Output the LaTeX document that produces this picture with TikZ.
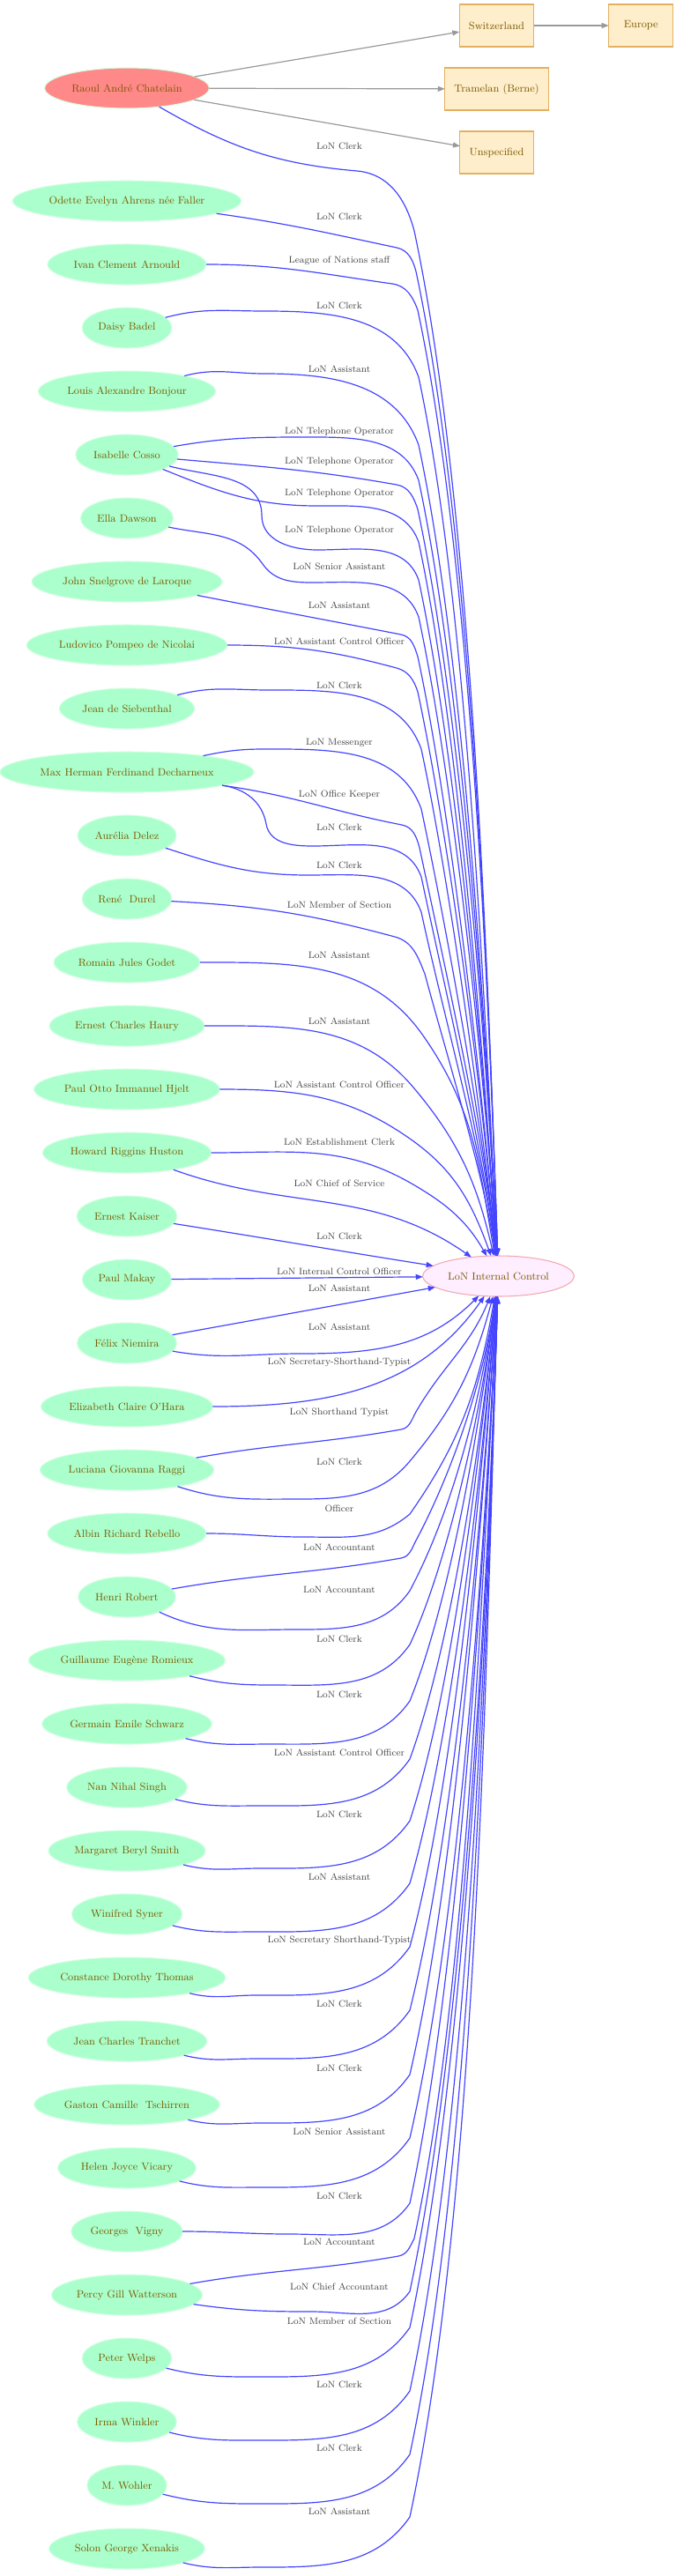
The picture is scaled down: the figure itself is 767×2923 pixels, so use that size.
\documentclass[tikz,border=0pt]{standalone}
\usepackage{tikz}
\usetikzlibrary{arrows.meta, positioning, shapes.geometric}

\definecolor{staffgreen}{HTML}{AAFFCC}
\definecolor{staffline}{HTML}{D2FFE2}
\definecolor{namebrown}{HTML}{7A5A00}
\definecolor{raoulred}{HTML}{FF8888}
\definecolor{orgpink}{HTML}{FFEEFF}
\definecolor{orgline}{HTML}{F0A8B0}
\definecolor{placefill}{HTML}{FFEECC}
\definecolor{placeline}{HTML}{E3B060}
\definecolor{edgeblue}{HTML}{4444FF}
\definecolor{edgegrey}{HTML}{999999}
\definecolor{labgrey}{HTML}{444444}

\tikzset{
  person/.style={ellipse, fill=staffgreen, draw=staffline, line width=0.8pt,
    text=namebrown, font=\fontsize{9}{10}\selectfont, minimum height=34.5pt,
    inner xsep=2.5pt, inner ysep=1pt, outer sep=0pt},
  org/.style={person, fill=orgpink, draw=orgline},
  place/.style={rectangle, fill=placefill, draw=placeline, line width=0.8pt,
    text=namebrown, font=\fontsize{9}{10}\selectfont, minimum height=36pt,
    minimum width=54.75pt, inner xsep=8pt, outer sep=0pt},
  staff/.style={draw=edgeblue, line width=0.9pt, -{Triangle[length=6pt,width=4.5pt]}},
  geo/.style={draw=edgegrey, line width=0.9pt, -{Triangle[length=6pt,width=4.5pt]}},
  role/.style={text=labgrey, font=\fontsize{8}{9}\selectfont, inner sep=1pt},
}

\begin{document}
\begin{tikzpicture}[x=0.75pt, y=-0.75pt, node distance=19.5pt]
  \useasboundingbox (0,0) rectangle (767,2923);

  % People
  \node[person, fill=raoulred] (raoul) at (144,100) {Raoul André Chatelain};
  \node[person, below=61.5pt of raoul] (odette) {Odette Evelyn Ahrens née Faller};
  \node[person, below=of odette] (ivan) {Ivan Clement Arnould};
  \node[person, below=of ivan] (daisy) {Daisy Badel};
  \node[person, below=of daisy] (louis) {Louis Alexandre Bonjour};
  \node[person, below=of louis] (isabelle) {Isabelle Cosso};
  \node[person, below=of isabelle] (ella) {Ella Dawson};
  \node[person, below=of ella] (john) {John Snelgrove de Laroque};
  \node[person, below=of john] (ludovico) {Ludovico Pompeo de Nicolai};
  \node[person, below=of ludovico] (jeans) {Jean de Siebenthal};
  \node[person, below=of jeans] (max) {Max Herman Ferdinand Decharneux};
  \node[person, below=of max] (aurelia) {Aurélia Delez};
  \node[person, below=of aurelia] (rene) {René\ \ Durel};
  \node[person, below=of rene] (romain) {Romain Jules Godet};
  \node[person, below=of romain] (ernestch) {Ernest Charles Haury};
  \node[person, below=of ernestch] (paulotto) {Paul Otto Immanuel Hjelt};
  \node[person, below=of paulotto] (howard) {Howard Riggins Huston};
  \node[person, below=of howard] (ernestk) {Ernest Kaiser};
  \node[person, below=of ernestk] (paulm) {Paul Makay};
  \node[person, below=of paulm] (felix) {Félix Niemira};
  \node[person, below=of felix] (elizabeth) {Elizabeth Claire O'Hara};
  \node[person, below=of elizabeth] (luciana) {Luciana Giovanna Raggi};
  \node[person, below=of luciana] (albin) {Albin Richard Rebello};
  \node[person, below=of albin] (henri) {Henri Robert};
  \node[person, below=of henri] (guillaume) {Guillaume Eugène Romieux};
  \node[person, below=of guillaume] (germain) {Germain Emile Schwarz};
  \node[person, below=of germain] (nan) {Nan Nihal Singh};
  \node[person, below=of nan] (margaret) {Margaret Beryl Smith};
  \node[person, below=of margaret] (winifred) {Winifred Syner};
  \node[person, below=of winifred] (constance) {Constance Dorothy Thomas};
  \node[person, below=of constance] (jeanc) {Jean Charles Tranchet};
  \node[person, below=of jeanc] (gaston) {Gaston Camille\ \ Tschirren};
  \node[person, below=of gaston] (helen) {Helen Joyce Vicary};
  \node[person, below=of helen] (georges) {Georges\ \ Vigny};
  \node[person, below=of georges] (percy) {Percy Gill Watterson};
  \node[person, below=of percy] (peter) {Peter Welps};
  \node[person, below=of peter] (irma) {Irma Winkler};
  \node[person, below=of irma] (wohler) {M. Wohler};
  \node[person, below=of wohler] (solon) {Solon George Xenakis};

  % Places and the organisation
  \node[place] (switz) at (563.5,29) {Switzerland};
  \node[place, right=63.75pt of switz] (europe) {Europe};
  \node[place, below=18pt of switz] (tramelan) {Tramelan (Berne)};
  \node[place, below=18pt of tramelan] (unspec) {Unspecified};
  \node[org] (lic) at (565.5,1448) {LoN Internal Control};

  % Places
  \draw[geo] (raoul) -- (switz);
  \draw[geo] (raoul) -- (tramelan);
  \draw[geo] (raoul) -- (unspec);
  \draw[geo] (switz) -- (europe);

  % Staff links, above
  \draw[staff] (raoul) to[out=-30,in=175] (405,194) to[out=-5,in=105] (470,262) to[out=-78,in=92,looseness=.7] (lic);
  \draw[staff] (odette) to[out=-8,in=168] (450,281) to[out=-12,in=105] (472,308) to[out=-78,in=92,looseness=.7] (lic);
  \draw[staff] (ivan) to[out=0,in=172] (445,322) to[out=-8,in=110] (474,352) to[out=-78,in=92,looseness=.7] (lic);
  \draw[staff] (daisy) to[out=15,in=180] (300,353) to[out=0,in=110] (475,428) to[out=-78,in=93,looseness=.7] (lic);
  \draw[staff] (louis) to[out=15,in=180] (300,424) to[out=0,in=110] (475,505) to[out=-78,in=93,looseness=.7] (lic);
  \draw[staff] (isabelle) to[out=10,in=180] (350,496) to[out=0,in=110] (475,545) to[out=-78,in=93,looseness=.7] (lic);
  \draw[staff] (isabelle) to[out=-5,in=170] (450,550) to[out=-10,in=108] (474,578) to[out=-78,in=93,looseness=.7] (lic);
  \draw[staff] (isabelle) to[out=-22,in=180] (360,574) to[out=0,in=110] (475,615) to[out=-78,in=94,looseness=.7] (lic);
  \draw[staff] (isabelle) to[out=-15,in=90] (297,585) to[out=-90,in=180] (360,624) to[out=0,in=110] (475,658) to[out=-78,in=94,looseness=.7] (lic);
  \draw[staff] (ella) to[out=-12,in=125] (298,640) to[out=-55,in=180] (355,661) to[out=0,in=110] (475,700) to[out=-78,in=94,looseness=.7] (lic);
  \draw[staff] (john) to[out=-11,in=169] (455,720) to[out=-11,in=108] (474,745) to[out=-78,in=95,looseness=.7] (lic);
  \draw[staff] (ludovico) to[out=0,in=165] (450,758) to[out=-15,in=108] (474,785) to[out=-78,in=95,looseness=.7] (lic);
  \draw[staff] (jeans) to[out=15,in=180] (305,783) to[out=0,in=110] (478,850) to[out=-78,in=96,looseness=.7] (lic);
  \draw[staff] (max) to[out=12,in=180] (300,850) to[out=0,in=110] (478,918) to[out=-78,in=96,looseness=.7] (lic);
  \draw[staff] (max) to[out=-8,in=169] (456,936) to[out=-11,in=105] (476,962) to[out=-78,in=96,looseness=.7] (lic);
  \draw[staff] (max) to[out=-8,in=100] (302,935) to[out=-80,in=180] (355,960) to[out=0,in=110] (478,995) to[out=-78,in=97,looseness=.7] (lic);
  \draw[staff] (aurelia) to[out=-18,in=180] (350,993) to[out=0,in=110] (478,1035) to[out=-78,in=97,looseness=.7] (lic);
  \draw[staff] (rene) to[out=-3,in=165] (448,1063) to[out=-15,in=112] (482,1105) to[out=-75,in=98,looseness=.7] (lic);
  \draw[staff] (romain) to[out=0,in=125] (480,1175) to[out=-55,in=100] (lic);
  \draw[staff] (ernestch) to[out=0,in=130] (470,1235) to[out=-50,in=103] (lic);
  \draw[staff] (paulotto) to[out=0,in=145] (465,1292) to[out=-35,in=110] (lic);
  \draw[staff] (howard) to[out=0,in=150] (467,1343) to[out=-30,in=120] (lic);
  \draw[staff] (howard) to[out=-20,in=145] (lic);
  \draw[staff] (ernestk) to[out=-9,in=171] (lic);
  \draw[staff] (paulm) -- (lic);

  % Staff links, below
  \draw[staff] (felix) -- (lic.190);
  \draw[staff] (felix) to[out=-10,in=180] (340,1536) to[out=0,in=-135] (lic);
  \draw[staff] (elizabeth) to[out=0,in=-125] (lic);
  \draw[staff] (luciana) to[out=10,in=190] (455,1622) to[out=10,in=-120] (472,1602) to[out=60,in=-112] (lic);
  \draw[staff] (luciana) to[out=-18,in=180] (340,1701) to[out=0,in=-130] (465,1658) to[out=50,in=-105] (lic);
  \draw[staff] (albin) to[out=0,in=180] (345,1744) to[out=0,in=-140] (465,1718) to[out=55,in=-100] (lic);
  \draw[staff] (henri) to[out=10,in=190] (455,1768) to[out=10,in=-118] (472,1748) to[out=62,in=-98,looseness=.8] (lic);
  \draw[staff] (henri) to[out=-25,in=180] (335,1849) to[out=0,in=-125] (465,1805) to[out=62,in=-98,looseness=.8] (lic);
  \draw[staff] (guillaume) to[out=-14,in=180] (310,1912) to[out=0,in=-125] (465,1866) to[out=65,in=-97,looseness=.7] (lic);
  \draw[staff] (germain) to[out=-14,in=180] (305,1979) to[out=0,in=-125] (465,1930) to[out=68,in=-97,looseness=.7] (lic);
  \draw[staff] (nan) to[out=-14,in=180] (295,2049) to[out=0,in=-125] (465,1996) to[out=70,in=-96,looseness=.7] (lic);
  \draw[staff] (margaret) to[out=-14,in=180] (295,2120) to[out=0,in=-125] (465,2066) to[out=72,in=-96,looseness=.7] (lic);
  \draw[staff] (winifred) to[out=-14,in=180] (290,2192) to[out=0,in=-125] (465,2137) to[out=74,in=-95,looseness=.7] (lic);
  \draw[staff] (constance) to[out=-14,in=180] (290,2264) to[out=0,in=-125] (465,2209) to[out=75,in=-95,looseness=.7] (lic);
  \draw[staff] (jeanc) to[out=-14,in=180] (290,2336) to[out=0,in=-125] (465,2281) to[out=76,in=-94,looseness=.7] (lic);
  \draw[staff] (gaston) to[out=-14,in=180] (295,2409) to[out=0,in=-125] (465,2354) to[out=77,in=-94,looseness=.7] (lic);
  \draw[staff] (helen) to[out=-14,in=180] (295,2482) to[out=0,in=-125] (465,2426) to[out=77,in=-93,looseness=.7] (lic);
  \draw[staff] (georges) to[out=0,in=180] (330,2535) to[out=0,in=-125] (465,2500) to[out=78,in=-93,looseness=.7] (lic);
  \draw[staff] (percy) to[out=10,in=190] (452,2560) to[out=10,in=-118] (470,2540) to[out=78,in=-93,looseness=.7] (lic);
  \draw[staff] (percy) to[out=-8,in=180] (354,2623) to[out=0,in=-125] (465,2600) to[out=78,in=-92,looseness=.7] (lic);
  \draw[staff] (peter) to[out=-14,in=180] (295,2697) to[out=0,in=-125] (465,2641) to[out=78,in=-92,looseness=.7] (lic);
  \draw[staff] (irma) to[out=-14,in=180] (297,2769) to[out=0,in=-125] (465,2713) to[out=78,in=-92,looseness=.7] (lic);
  \draw[staff] (wohler) to[out=-14,in=180] (295,2841) to[out=0,in=-125] (465,2785) to[out=78,in=-92,looseness=.7] (lic);
  \draw[staff] (solon) to[out=-14,in=180] (295,2913) to[out=0,in=-125] (465,2856) .. controls (544,2485) and (552,1851) .. (lic.-92);

  % Roles
  \node[role] (raoul-r) at (385,166) {LoN Clerk};
  \node[role] (odette-r) at (385,246) {LoN Clerk};
  \node[role] (ivan-r) at (385,296) {League of Nations staff};
  \node[role] (daisy-r) at (385,347) {LoN Clerk};
  \node[role] (louis-r) at (385,419) {LoN Assistant};
  \node[role] (isabelle-r1) at (385,490) {LoN Telephone Operator};
  \node[role] (isabelle-r2) at (385,524) {LoN Telephone Operator};
  \node[role] (isabelle-r3) at (385,560) {LoN Telephone Operator};
  \node[role] (isabelle-r4) at (385,602) {LoN Telephone Operator};
  \node[role] (ella-r) at (385,643) {LoN Senior Assistant};
  \node[role] (john-r) at (385,687) {LoN Assistant};
  \node[role] (ludovico-r) at (385,728) {LoN Assistant Control Officer};
  \node[role] (jeans-r) at (385,778) {LoN Clerk};
  \node[role] (max-r1) at (385,843) {LoN Messenger};
  \node[role] (max-r2) at (385,902) {LoN Office Keeper};
  \node[role] (max-r3) at (385,939) {LoN Clerk};
  \node[role] (aurelia-r) at (385,982) {LoN Clerk};
  \node[role] (rene-r) at (385,1027) {LoN Member of Section};
  \node[role] (romain-r) at (385,1084) {LoN Assistant};
  \node[role] (ernestch-r) at (385,1159) {LoN Assistant};
  \node[role] (paulotto-r) at (385,1231) {LoN Assistant Control Officer};
  \node[role] (howard-r1) at (385,1296) {LoN Establishment Clerk};
  \node[role] (howard-r2) at (385,1343) {LoN Chief of Service};
  \node[role] (ernestk-r) at (385,1403) {LoN Clerk};
  \node[role] (paulm-r) at (385,1443) {LoN Internal Control Officer};
  \node[role] (felix-r1) at (385,1462) {LoN Assistant};
  \node[role] (felix-r2) at (385,1506) {LoN Assistant};
  \node[role] (elizabeth-r) at (385,1546) {LoN Secretary-Shorthand-Typist};
  \node[role] (luciana-r1) at (385,1603) {LoN Shorthand Typist};
  \node[role] (luciana-r2) at (385,1659) {LoN Clerk};
  \node[role] (albin-r) at (385,1712) {Officer};
  \node[role] (henri-r1) at (385,1756) {LoN Accountant};
  \node[role] (henri-r2) at (385,1804) {LoN Accountant};
  \node[role] (guillaume-r) at (385,1860) {LoN Clerk};
  \node[role] (germain-r) at (385,1923) {LoN Clerk};
  \node[role] (nan-r) at (385,1989) {LoN Assistant Control Officer};
  \node[role] (margaret-r) at (385,2059) {LoN Clerk};
  \node[role] (winifred-r) at (385,2130) {LoN Assistant};
  \node[role] (constance-r) at (385,2202) {LoN Secretary Shorthand-Typist};
  \node[role] (jeanc-r) at (385,2274) {LoN Clerk};
  \node[role] (gaston-r) at (385,2347) {LoN Clerk};
  \node[role] (helen-r) at (385,2419) {LoN Senior Assistant};
  \node[role] (georges-r) at (385,2492) {LoN Clerk};
  \node[role] (percy-r1) at (385,2544) {LoN Accountant};
  \node[role] (percy-r2) at (385,2595) {LoN Chief Accountant};
  \node[role] (peter-r) at (385,2634) {LoN Member of Section};
  \node[role] (irma-r) at (385,2706) {LoN Clerk};
  \node[role] (wohler-r) at (385,2778) {LoN Clerk};
  \node[role] (solon-r) at (385,2850) {LoN Assistant};
\end{tikzpicture}
\end{document}
